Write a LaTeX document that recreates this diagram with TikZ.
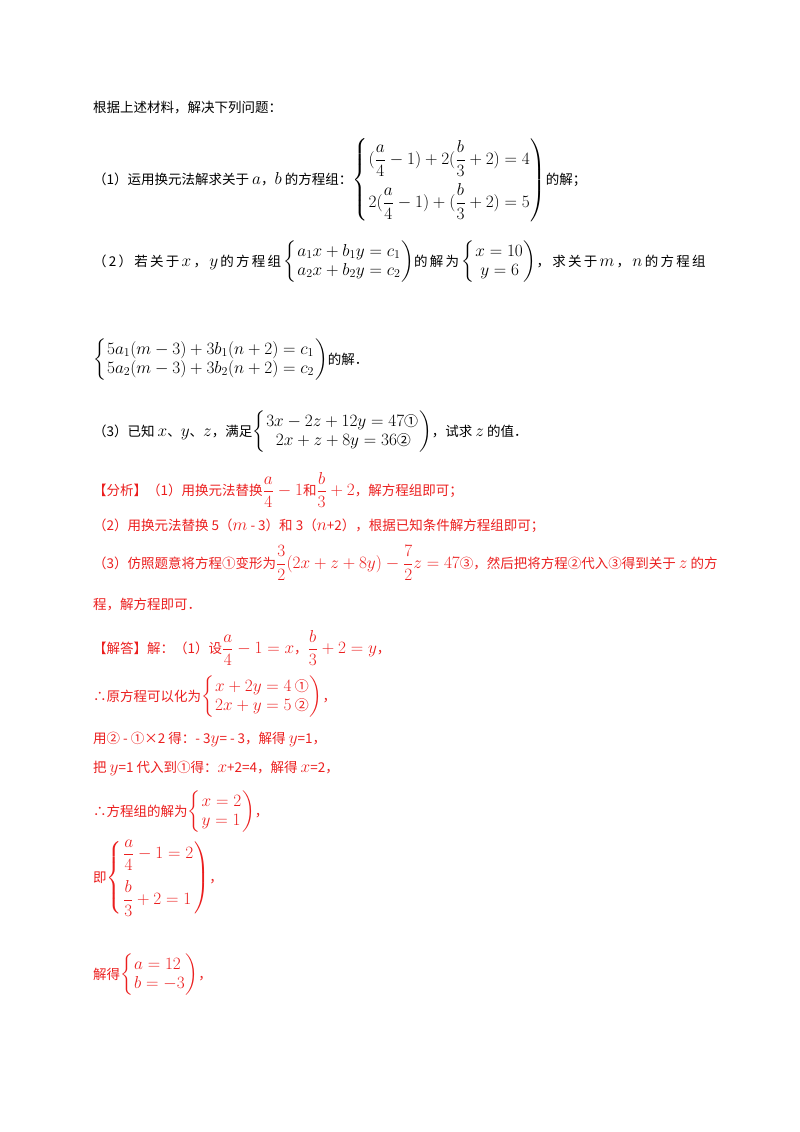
\documentclass[tikz,border=0pt]{standalone}
\usepackage{amsmath}
\usepackage{fontspec}
\setmainfont{Noto Sans CJK SC}
\newfontfamily\cjk{Noto Sans CJK SC}
\definecolor{hred}{RGB}{235,30,30}
\newcommand{\M}[1]{{\fontsize{16.5}{19}\selectfont$\arraycolsep=1pt\displaystyle #1$}}
\newcommand{\cc}[1]{\text{\fontsize{14}{16}\selectfont #1}}
\begin{document}
\begin{tikzpicture}[x=1pt,y=-1pt,
  txt/.style={anchor=west,inner sep=0pt,font=\fontsize{13.5}{16}\selectfont},
  rtxt/.style={txt,text=hred}]
\useasboundingbox (0,0) rectangle (800,1132);
\node[txt] (t0) at (93,108) {根据上述材料，解决下列问题：};
\node[txt] (t1) at (93,180) {（1）运用换元法解求关于 \M{a}，\M{b} 的方程组：\M{\left\{\begin{array}{l}(\dfrac{a}{4}-1)+2(\dfrac{b}{3}+2)=4\\[14pt]2(\dfrac{a}{4}-1)+(\dfrac{b}{3}+2)=5\end{array}\right)}的解；};
\node[txt] (t2) at (93,262) {（\,2\,）\,若\,关\,于\,\M{x}\,，\,\M{y}\,的\,方\,程\,组\,\M{\left\{\begin{array}{l}a_1x+b_1y=c_1\\a_2x+b_2y=c_2\end{array}\right)}的\,解\,为\,\M{\left\{\begin{array}{l}x=10\\\;y=6\end{array}\right)}，\,求\,关\,于\,\M{m}\,，\,\M{n}\,的\,方\,程\,组};
\node[txt] (t3) at (93,360) {\M{\left\{\begin{array}{l}5a_1(m-3)+3b_1(n+2)=c_1\\5a_2(m-3)+3b_2(n+2)=c_2\end{array}\right)}的解．};
\node[txt] (t4) at (93,432) {（3）已知 \M{x}、\M{y}、\M{z}，满足\M{\left\{\begin{array}{l}3x-2z+12y=47\cc{①}\\\;\;2x+z+8y=36\cc{②}\end{array}\right)}，试求 \M{z} 的值．};
\node[rtxt] (a0) at (93,490) {【分析】（1）用换元法替换\M{\dfrac{a}{4}-1}和\M{\dfrac{b}{3}+2}，解方程组即可；};
\node[rtxt] (a1) at (93,526) {（2）用换元法替换 5（\M{m} - 3）和 3（\M{n}+2），根据已知条件解方程组即可；};
\node[rtxt] (a2) at (93,563) {（3）仿照题意将方程①变形为\M{\dfrac{3}{2}(2x+z+8y)-\dfrac{7}{2}z=47}③，然后把将方程②代入③得到关于 \M{z} 的方};
\node[rtxt] (a3) at (93,605) {程，解方程即可．};
\node[rtxt] (s0) at (93,648) {【解答】解：（1）设\M{\dfrac{a}{4}-1=x}，\M{\dfrac{b}{3}+2=y}，};
\node[rtxt] (s1) at (93,697) {∴原方程可以化为\M{\left\{\begin{array}{l}x+2y=4\cc{ ①}\\2x+y=5\cc{ ②}\end{array}\right)}，};
\node[rtxt] (s2) at (93,739) {用② - ①×2 得：- 3\M{y}= - 3，解得 \M{y}=1，};
\node[rtxt] (s3) at (93,768) {把 \M{y}=1 代入到①得：\M{x}+2=4，解得 \M{x}=2，};
\node[rtxt] (s4) at (93,812) {∴方程组的解为\M{\left\{\begin{array}{l}x=2\\y=1\end{array}\right)}，};
\node[rtxt] (s5) at (93,878) {即\M{\left\{\begin{array}{l}\dfrac{a}{4}-1=2\\[16pt]\dfrac{b}{3}+2=1\end{array}\right)}，};
\node[rtxt] (s6) at (93,975) {解得\M{\left\{\begin{array}{l}a=12\\b=-3\end{array}\right)}，};
\end{tikzpicture}
\end{document}
